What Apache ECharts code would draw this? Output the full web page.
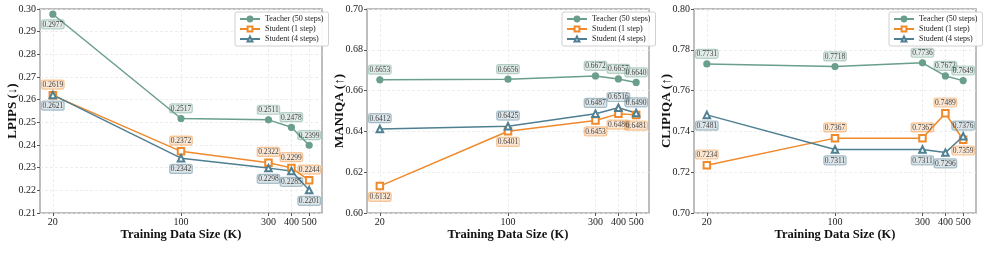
<!DOCTYPE html>
<html lang="en" style="height: 100%;background-color:#ffffff">
<head>
    <meta charset="UTF-8">
    <title>Training data size ablation</title>
    <script src="https://cdn.jsdelivr.net/npm/echarts@6/dist/echarts.min.js"></script>
</head>
<body style="margin:0;height:100%;">
<div id="main" style="width:983px;height:263px;"></div>
<script>
    var sizes = [20, 100, 300, 400, 500];
    var seriesNames = ['Teacher (50 steps)', 'Student (1 step)', 'Student (4 steps)'];
    var metricNames = ['LPIPS (\u2193)', 'MANIQA (\u2191)', 'CLIPIQA (\u2191)'];

    var lpipsTeacher = [0.2977, 0.2517, 0.2511, 0.2478, 0.2399];
    var lpipsStudent1 = [0.2619, 0.2372, 0.2322, 0.2299, 0.2244];
    var lpipsStudent4 = [0.2621, 0.2342, 0.2298, 0.2285, 0.2201];

    var maniqaTeacher = [0.6653, 0.6656, 0.6672, 0.6657, 0.6640];
    var maniqaStudent1 = [0.6132, 0.6401, 0.6453, 0.6486, 0.6481];
    var maniqaStudent4 = [0.6412, 0.6425, 0.6487, 0.6516, 0.6490];

    var clipiqaTeacher = [0.7731, 0.7718, 0.7736, 0.7672, 0.7649];
    var clipiqaStudent1 = [0.7234, 0.7367, 0.7367, 0.7489, 0.7359];
    var clipiqaStudent4 = [0.7481, 0.7311, 0.7311, 0.7296, 0.7376];

    var yMin = [0.21, 0.60, 0.70];
    var yMax = [0.30, 0.70, 0.80];
    var yStep = [0.01, 0.02, 0.02];

    var panels = [
        [lpipsTeacher, lpipsStudent1, lpipsStudent4],
        [maniqaTeacher, maniqaStudent1, maniqaStudent4],
        [clipiqaTeacher, clipiqaStudent1, clipiqaStudent4]
    ];

    // label side for each point (style, not data)
    var labelSide = [
        [['bottom', 'top', 'top', 'top', 'top'], ['top', 'top', 'top', 'top', 'top'], ['bottom', 'bottom', 'bottom', 'bottom', 'bottom']],
        [['top', 'top', 'top', 'top', 'top'], ['bottom', 'bottom', 'bottom', 'bottom', 'bottom'], ['top', 'top', 'top', 'top', 'top']],
        [['top', 'top', 'top', 'top', 'top'], ['top', 'top', 'top', 'top', 'bottom'], ['bottom', 'bottom', 'bottom', 'bottom', 'top']]
    ];

    var colors = ['#6a9f8b', '#f0892a', '#4e7f92'];
    var labelBg = ['rgba(106,159,139,0.2)', 'rgba(240,137,42,0.2)', 'rgba(78,127,146,0.2)'];
    var labelBorder = ['rgba(106,159,139,0.45)', 'rgba(240,137,42,0.45)', 'rgba(78,127,146,0.45)'];
    var symbols = ['circle', 'emptyRect', 'emptyTriangle'];
    var symbolSizes = [6, 6.5, 6.5];
    var font = "'Liberation Serif', 'DejaVu Serif', serif";
    var lefts = [40, 367, 694];

    var chart = echarts.init(document.getElementById('main'));

    var grids = [], xAxes = [], yAxes = [], legends = [], series = [];

    for (var p = 0; p < 3; p++) {
        grids.push({
            left: lefts[p], top: 9, width: 282, height: 204,
            show: true, borderColor: '#a8a8a8', borderWidth: 1.5
        });
        xAxes.push({
            type: 'log', logBase: 10, gridIndex: p,
            min: 17.02, max: 587.5,
            name: 'Training Data Size (K)', nameLocation: 'middle', nameGap: 15,
            nameMoveOverlap: false,
            nameTextStyle: {fontFamily: font, fontWeight: 'bold', fontSize: 12.5, color: '#111'},
            axisLine: {show: false},
            axisTick: {show: true, length: 3, lineStyle: {color: '#555'}, customValues: sizes},
            axisLabel: {fontFamily: font, fontSize: 10, color: '#222', margin: 4, customValues: sizes},
            splitLine: {show: true, lineStyle: {color: '#e8e8e8', type: [3, 2], width: 0.8}},
            minorTick: {show: false}
        });
        yAxes.push({
            type: 'value', gridIndex: p,
            min: yMin[p], max: yMax[p], interval: yStep[p],
            name: metricNames[p], nameLocation: 'middle', nameGap: 21,
            nameMoveOverlap: false,
            nameTextStyle: {fontFamily: font, fontWeight: 'bold', fontSize: 13, color: '#111'},
            axisLine: {show: false},
            axisTick: {show: true, length: 3, lineStyle: {color: '#555'}},
            axisLabel: {
                fontFamily: font, fontSize: 10, color: '#222', margin: 4,
                formatter: function (v) { return v.toFixed(2); }
            },
            splitLine: {show: true, lineStyle: {color: '#e8e8e8', type: [3, 2], width: 0.8}}
        });
        legends.push({
            orient: 'vertical',
            left: lefts[p] + 195, top: 12,
            data: seriesNames,
            itemWidth: 20, itemHeight: 6, itemGap: 2,
            padding: [3, 5, 3, 4],
            borderColor: '#d0d0d0', borderWidth: 1, borderRadius: 2,
            backgroundColor: 'rgba(255,255,255,0.9)',
            textStyle: {fontFamily: font, fontSize: 8, color: '#222'},
            selectedMode: false
        });
        for (var s = 0; s < 3; s++) {
            var data = [];
            for (var i = 0; i < sizes.length; i++) {
                data.push({
                    value: [sizes[i], panels[p][s][i]],
                    label: {position: labelSide[p][s][i]}
                });
            }
            series.push({
                name: seriesNames[s],
                type: 'line',
                xAxisIndex: p, yAxisIndex: p,
                data: data,
                symbol: symbols[s],
                symbolSize: symbolSizes[s],
                color: colors[s],
                lineStyle: {width: 1.5, color: colors[s]},
                itemStyle: {color: colors[s], borderWidth: 1.2, borderColor: colors[s]},
                label: {
                    show: true, distance: 2,
                    formatter: function (d) { return d.value[1].toFixed(4); },
                    fontFamily: font, fontSize: 7.5, color: '#444',
                    backgroundColor: labelBg[s],
                    borderColor: labelBorder[s], borderWidth: 0.6, borderRadius: 2,
                    padding: [1, 1, 0, 1]
                },
                emphasis: {disabled: true},
                animation: false
            });
        }
    }

    chart.setOption({
        backgroundColor: '#ffffff',
        animation: false,
        grid: grids,
        xAxis: xAxes,
        yAxis: yAxes,
        legend: legends,
        series: series
    });
</script>
</body>
</html>
